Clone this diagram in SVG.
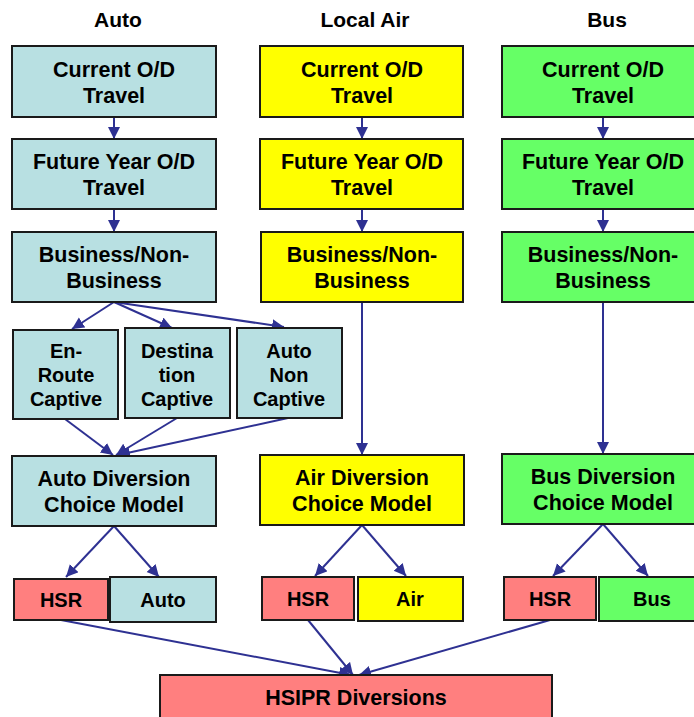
<svg xmlns="http://www.w3.org/2000/svg" width="694" height="717" viewBox="0 0 694 717">
<style>
text{font-family:"Liberation Sans",Arial,sans-serif;font-weight:bold;fill:#000;text-anchor:middle}
.t{font-size:21px}
.b{font-size:21.5px}
.s{font-size:20px}
g rect{stroke:#1a1a1a;stroke-width:2}
.blue{fill:#B8E0E2}
.yel{fill:#FFFF00}
.grn{fill:#66FF66}
.red{fill:#FF7F7F}
.c line{stroke:#2E3192;stroke-width:2;marker-end:url(#ah)}
</style>
<defs>
<marker id="ah" markerUnits="userSpaceOnUse" markerWidth="13" markerHeight="13" refX="12" refY="6" orient="auto">
<path d="M0,0 L12,6 L0,12 z" fill="#2E3192"/>
</marker>
</defs>
<text class="t" x="118" y="27">Auto</text>
<text class="t" x="365" y="27">Local Air</text>
<text class="t" x="607" y="27">Bus</text>

<g class="c">
<line x1="114" y1="117" x2="114" y2="139"/>
<line x1="114" y1="209" x2="114" y2="232"/>
<line x1="114" y1="302" x2="72" y2="329"/>
<line x1="114" y1="302" x2="172" y2="328"/>
<line x1="114" y1="302" x2="284" y2="327"/>
<line x1="65" y1="419" x2="113" y2="455"/>
<line x1="177" y1="418" x2="116" y2="455"/>
<line x1="288" y1="418" x2="118" y2="455"/>
<line x1="114" y1="526" x2="66" y2="577"/>
<line x1="114" y1="526" x2="159" y2="577"/>
<line x1="362" y1="117" x2="362" y2="139"/>
<line x1="362" y1="209" x2="362" y2="232"/>
<line x1="362" y1="302" x2="362" y2="455"/>
<line x1="362" y1="525" x2="315" y2="576"/>
<line x1="362" y1="525" x2="406" y2="576"/>
<line x1="603" y1="117" x2="603" y2="139"/>
<line x1="603" y1="209" x2="603" y2="232"/>
<line x1="603" y1="302" x2="603" y2="454"/>
<line x1="603" y1="524" x2="553" y2="576"/>
<line x1="603" y1="524" x2="648" y2="576"/>
<line x1="61" y1="620" x2="351" y2="675"/>
<line x1="308" y1="620" x2="353" y2="675"/>
<line x1="550" y1="620" x2="359" y2="675"/>
</g>

<g id="auto-current"><rect class="blue" x="12" y="46" width="204" height="71"/><text class="b" x="114" y="77">Current O/D</text><text class="b" x="114" y="103">Travel</text></g>
<g id="auto-future"><rect class="blue" x="12" y="139" width="204" height="70"/><text class="b" x="114" y="169">Future Year O/D</text><text class="b" x="114" y="195">Travel</text></g>
<g id="auto-business"><rect class="blue" x="12" y="232" width="204" height="70"/><text class="b" x="114" y="262">Business/Non-</text><text class="b" x="114" y="288">Business</text></g>
<g id="enroute"><rect class="blue" x="13" y="330" width="105" height="89"/><text class="s" x="66" y="358">En-</text><text class="s" x="66" y="382">Route</text><text class="s" x="66" y="406">Captive</text></g>
<g id="destination"><rect class="blue" x="125" y="328" width="105" height="90"/><text class="s" x="177" y="358">Destina</text><text class="s" x="177" y="382">tion</text><text class="s" x="177" y="406">Captive</text></g>
<g id="autononcaptive"><rect class="blue" x="237" y="328" width="105" height="90"/><text class="s" x="289" y="358">Auto</text><text class="s" x="289" y="382">Non</text><text class="s" x="289" y="406">Captive</text></g>
<g id="auto-diversion"><rect class="blue" x="12" y="456" width="204" height="70"/><text class="b" x="114" y="486">Auto Diversion</text><text class="b" x="114" y="512">Choice Model</text></g>
<g id="auto-hsr"><rect class="red" x="14" y="579" width="94" height="41"/><text class="s" x="61" y="607">HSR</text></g>
<g id="auto-auto"><rect class="blue" x="110" y="577" width="106" height="45"/><text class="s" x="163" y="607">Auto</text></g>

<g id="air-current"><rect class="yel" x="260" y="46" width="203" height="71"/><text class="b" x="362" y="77">Current O/D</text><text class="b" x="362" y="103">Travel</text></g>
<g id="air-future"><rect class="yel" x="260" y="139" width="203" height="70"/><text class="b" x="362" y="169">Future Year O/D</text><text class="b" x="362" y="195">Travel</text></g>
<g id="air-business"><rect class="yel" x="261" y="232" width="202" height="70"/><text class="b" x="362" y="262">Business/Non-</text><text class="b" x="362" y="288">Business</text></g>
<g id="air-diversion"><rect class="yel" x="260" y="455" width="204" height="70"/><text class="b" x="362" y="485">Air Diversion</text><text class="b" x="362" y="511">Choice Model</text></g>
<g id="air-hsr"><rect class="red" x="262" y="577" width="92" height="43"/><text class="s" x="308" y="606">HSR</text></g>
<g id="air-air"><rect class="yel" x="358" y="577" width="105" height="44"/><text class="s" x="410" y="606">Air</text></g>

<g id="bus-current"><rect class="grn" x="502" y="46" width="204" height="71"/><text class="b" x="603" y="77">Current O/D</text><text class="b" x="603" y="103">Travel</text></g>
<g id="bus-future"><rect class="grn" x="502" y="139" width="204" height="70"/><text class="b" x="603" y="169">Future Year O/D</text><text class="b" x="603" y="195">Travel</text></g>
<g id="bus-business"><rect class="grn" x="502" y="232" width="204" height="70"/><text class="b" x="603" y="262">Business/Non-</text><text class="b" x="603" y="288">Business</text></g>
<g id="bus-diversion"><rect class="grn" x="502" y="454" width="204" height="70"/><text class="b" x="603" y="484">Bus Diversion</text><text class="b" x="603" y="510">Choice Model</text></g>
<g id="bus-hsr"><rect class="red" x="504" y="577" width="92" height="43"/><text class="s" x="550" y="606">HSR</text></g>
<g id="bus-bus"><rect class="grn" x="599" y="577" width="100" height="44"/><text class="s" x="652" y="606">Bus</text></g>

<g id="hsipr"><rect class="red" x="160" y="675" width="392" height="50"/><text class="b" x="356" y="705">HSIPR Diversions</text></g>
</svg>
